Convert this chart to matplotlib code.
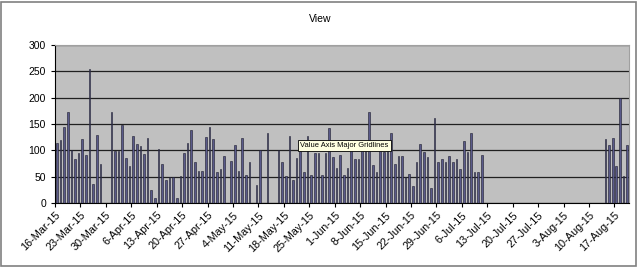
import numpy as np
import pandas as pd
import matplotlib
matplotlib.use('Agg')
import matplotlib.pyplot as plt
from matplotlib.patches import Rectangle

plt.rcParams['font.family'] = ['Liberation Sans', 'DejaVu Sans']

# daily views, 16-Mar-15 .. 22-Aug-15 (0 = no data that day)
views = [113, 120, 144, 173, 100, 83, 95, 121, 91, 254, 36, 130, 74, 0,
         0, 173, 99, 99, 149, 86, 71, 128, 112, 109, 93, 123, 25, 9,
         102, 74, 44, 49, 49, 10, 51, 94, 113, 139, 78, 61, 61, 125,
         144, 122, 59, 64, 89, 0, 80, 111, 61, 123, 53, 77, 0, 34,
         100, 0, 132, 0, 0, 100, 77, 52, 127, 44, 85, 99, 59, 127,
         53, 94, 94, 53, 94, 142, 87, 67, 92, 53, 67, 104, 83, 83,
         104, 104, 173, 72, 59, 104, 97, 104, 133, 74, 89, 89, 50, 56,
         33, 77, 112, 96, 88, 29, 162, 78, 84, 77, 89, 78, 83, 64,
         118, 96, 133, 59, 58, 92, 0, 0, 0, 0, 0, 0, 0, 0,
         0, 0, 0, 0, 0, 0, 0, 0, 0, 0, 0, 0, 0, 0,
         0, 0, 0, 0, 0, 0, 0, 0, 0, 0, 0, 122, 110, 123,
         71, 199, 52, 110]
dates = pd.date_range('2015-03-16', periods=len(views), freq='D')
y_ticks = [0, 50, 100, 150, 200, 250, 300]

fig = plt.figure(figsize=(6.39, 2.67), dpi=100)
fig.patch.set_facecolor('white')
# chart area frame
fig.patches.append(Rectangle((0.002, 0.004), 0.994, 0.99, transform=fig.transFigure,
                             fill=False, edgecolor='#808080', linewidth=1.2))

ax = fig.add_axes([0.0861, 0.2397, 0.8983, 0.5918])
ax.set_facecolor('#C0C0C0')

x = np.arange(len(views))
v = np.array(views, dtype=float)
has = v > 0
ax.bar(x[has], v[has], width=0.45, color='#5A5A8A', edgecolor='#1A1A2A', linewidth=0.4, zorder=3)

ax.set_ylim(0, 300)
ax.set_xlim(-0.5, len(views) - 0.5)
ax.set_yticks(y_ticks)
ax.yaxis.grid(True, color='#202020', linewidth=0.9, zorder=1)
ax.set_axisbelow(True)

tick_pos = np.arange(0, len(views), 7) - 0.5
tick_lab = [f'{d.day}-{d.strftime("%b-%y")}' for d in dates[::7]]
ax.set_xticks(tick_pos)
ax.set_xticklabels(tick_lab, rotation=45, ha='right', rotation_mode='anchor', fontsize=7.8)
ax.tick_params(axis='y', labelsize=7.5, length=3, width=0.8, color='black')
ax.tick_params(axis='x', length=3, width=0.8, color='black', pad=2)

for s in ['top', 'right']:
    ax.spines[s].set_color('#A0A0A0')
    ax.spines[s].set_linewidth(0.8)
ax.spines['left'].set_color('black')
ax.spines['bottom'].set_color('black')

fig.text(0.501, 0.93, 'View', ha='center', va='center', fontsize=7.5)

# tooltip left over in the screenshot
fig.text(0.470, 0.455, 'Value Axis Major Gridlines', ha='left', va='center', fontsize=5.4,
         bbox=dict(boxstyle='square,pad=0.3', facecolor='#FFFFE1', edgecolor='black', linewidth=0.6),
         zorder=10)

fig.savefig('out.png', dpi=100)
